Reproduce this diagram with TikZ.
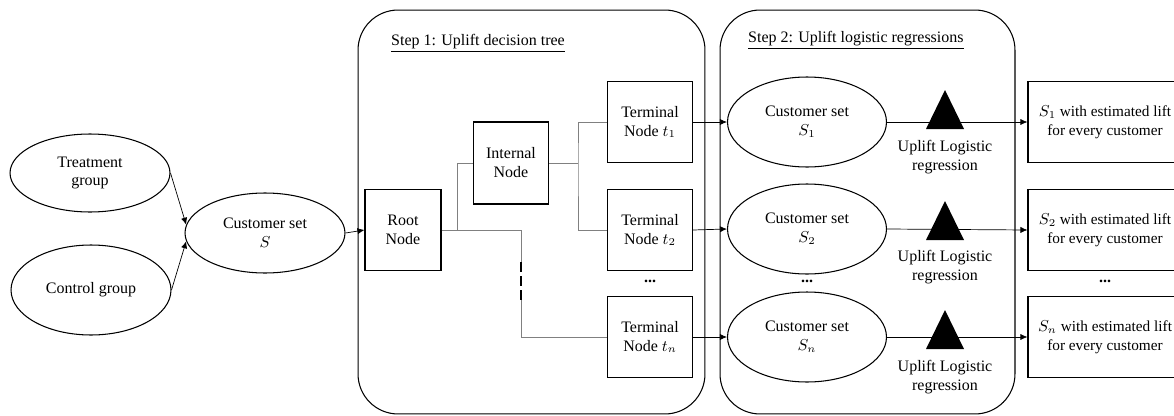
\documentclass[tikz,border=0pt]{standalone}
\usepackage{fontspec}
\setmainfont{Liberation Serif}
\usetikzlibrary{arrows.meta, shapes.geometric}

\begin{document}
\begin{tikzpicture}[
    x=0.02cm, y=-0.02cm,
    every node/.style={font=\fontsize{9.1}{10.8}\selectfont},
    oval/.style={draw, semithick, ellipse, minimum width=3.2cm, minimum height=1.6cm, align=center, inner sep=0pt},
    box/.style={draw, semithick, minimum width=1.52cm, minimum height=1.62cm, align=center, inner sep=1pt},
    result/.style={box, minimum width=3.08cm, font=\fontsize{8.7}{10.8}\selectfont},
    frame/.style={draw, semithick, rounded corners=0.8cm},
    branch/.style={draw=gray, thin},
    arrow/.style={->, >={Latex[length=4pt, width=3.5pt]}}
]
    \clip (0,0) rectangle (1174,416);

    % Input groups
    \node[oval, minimum height=1.56cm] (treat) at (90,173) {Treatment\\group};
    \node[oval, minimum height=1.8cm] (ctrl) at (91,290) {Control group};
    \node[oval] (cs) at (265,233) {Customer set\\$S$};

    % Step 1 frame
    \node[frame, minimum width=6.94cm, minimum height=8.08cm] (step1) at (531.5,212) {};
    \node[anchor=west] (title1) at (385,43) {\underline{Step 1: Uplift decision tree}};

    % Tree nodes
    \node[box] (root) at (403,230) {Root\\Node};
    \node[box, minimum width=1.5cm, minimum height=1.64cm] (internal) at (511,163) {Internal\\Node};
    \node[box, minimum width=1.7cm] (t1) at (650,122) {Terminal\\Node $t_1$};
    \node[box, minimum width=1.7cm] (t2) at (650,230) {Terminal\\Node $t_2$};
    \node[box, minimum width=1.7cm] (tn) at (650,337) {Terminal\\Node $t_n$};
    \node (dots1) at (650,281) {\textbf{...}};

    % Tree branches
    \coordinate (split) at (457,230);
    \coordinate (drop) at (521,230);
    \coordinate (gapTop) at (521,262);
    \coordinate (gapBot) at (521,300);
    \coordinate (fork) at (578,163);
    \draw[branch] (root.east) -- (drop) -- (gapTop);
    \draw[thick, dash pattern=on 5.5pt off 2.6pt] (gapTop) -- (gapBot);
    \draw[branch] (gapBot) |- (tn.west);
    \draw[branch] (split) |- (internal.west);
    \draw[branch] (internal.east) -- (fork);
    \draw[branch] (t1.west) -| (fork) |- (t2.west);

    % Step 2 frame
    \node[frame, minimum width=5.9cm, minimum height=8.08cm] (step2) at (867.5,212) {};
    \node[anchor=west] (title2) at (742,40) {\underline{Step 2: Uplift logistic regressions}};

    % Customer subsets
    \node[oval, minimum width=3.18cm, minimum height=1.8cm] (s1) at (807,122) {Customer set\\$S_1$};
    \node[oval, minimum width=3.18cm, minimum height=1.8cm] (s2) at (807,229) {Customer set\\$S_2$};
    \node[oval, minimum width=3.18cm, minimum height=1.8cm] (sn) at (807,337) {Customer set\\$S_n$};
    \node (dots2) at (807,281) {\textbf{...}};

    % Results
    \node[result] (r1) at (1105,122) {$S_1$ with estimated lift\\for every customer};
    \node[result] (r2) at (1105,230) {$S_2$ with estimated lift\\for every customer};
    \node[result] (rn) at (1105,337) {$S_n$ with estimated lift\\for every customer};
    \node (dots3) at (1105,281) {\textbf{...}};

    % Arrows
    \draw[arrow] (treat.east) -- (cs.174);
    \draw[arrow] (ctrl.east) -- (cs.186);
    \draw[arrow] (cs.east) -- (root.west);
    \draw[arrow] (t1.east) -- (s1.west);
    \draw[arrow] (t2.east) -- (s2.west);
    \draw[arrow] (tn.east) -- (sn.west);
    \draw[arrow] (s1.east) -- (r1.west);
    \draw[arrow] (s2.east) -- (r2.west);
    \draw[arrow] (sn.east) -- (rn.west);

    % Regression markers
    \fill (945,90) -- (964,129) -- (926,129) -- cycle;
    \fill (945,201) -- (964,240) -- (926,240) -- cycle;
    \fill (945,310) -- (964,349) -- (926,349) -- cycle;
    \node[align=center] (lr1) at (945,157) {Uplift Logistic\\regression};
    \node[align=center] (lr2) at (945,267) {Uplift Logistic\\regression};
    \node[align=center] (lrn) at (945,377) {Uplift Logistic\\regression};
\end{tikzpicture}
\end{document}
